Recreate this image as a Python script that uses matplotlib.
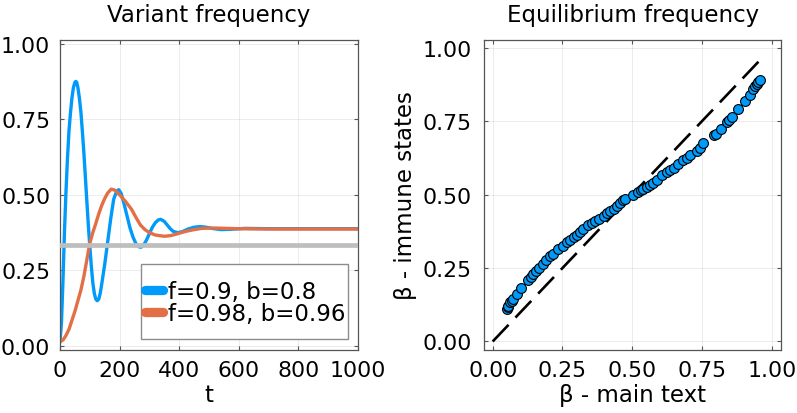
import matplotlib.pyplot as plt
from matplotlib.patches import Rectangle

# left panel: variant frequency over time
t_blue = [0, 5, 10, 15, 20, 25, 30, 35, 40, 45, 50, 53, 56, 60, 65, 70, 75, 80, 85, 90, 95,
          100, 105, 110, 115, 120, 125, 130, 135, 140, 150, 160, 170, 180, 190, 197, 205,
          215, 225, 235, 245, 255, 265, 272, 280, 290, 300, 310, 320, 330, 338, 350, 360,
          370, 380, 395, 410, 430, 450, 470, 490, 510, 540, 570, 620, 700, 800, 1000]
y_blue = [0.015, 0.08, 0.22, 0.38, 0.51, 0.62, 0.71, 0.77, 0.82, 0.855, 0.872, 0.875, 0.872,
          0.855, 0.82, 0.775, 0.71, 0.64, 0.56, 0.48, 0.40, 0.33, 0.265, 0.21, 0.175, 0.155,
          0.150, 0.155, 0.175, 0.205, 0.27, 0.345, 0.42, 0.485, 0.512, 0.517, 0.505, 0.47,
          0.43, 0.39, 0.36, 0.338, 0.328, 0.327, 0.333, 0.35, 0.372, 0.393, 0.408, 0.417,
          0.419, 0.412, 0.40, 0.388, 0.379, 0.375, 0.378, 0.387, 0.393, 0.395, 0.393, 0.389,
          0.385, 0.386, 0.389, 0.388, 0.388, 0.388]
t_orange = [0, 10, 20, 30, 40, 50, 60, 70, 80, 90, 100, 110, 120, 130, 140, 150, 160, 172,
            185, 200, 220, 240, 255, 270, 285, 300, 320, 350, 370, 390, 410, 430, 450, 475,
            500, 530, 560, 600, 700, 1000]
y_orange = [0.015, 0.02, 0.035, 0.055, 0.085, 0.115, 0.15, 0.185, 0.23, 0.285, 0.34, 0.375,
            0.405, 0.437, 0.465, 0.488, 0.506, 0.519, 0.515, 0.50, 0.478, 0.452, 0.425, 0.40,
            0.385, 0.375, 0.367, 0.363, 0.365, 0.37, 0.376, 0.381, 0.385, 0.389, 0.390, 0.390,
            0.389, 0.388, 0.387, 0.387]
baseline = 1 / 3
labels = ["f=0.9, b=0.8", "f=0.98, b=0.96"]

# right panel: equilibrium frequency comparison
beta_main = [0.050, 0.053, 0.056, 0.062, 0.068, 0.074, 0.086, 0.100, 0.128, 0.137, 0.146, 0.156,
             0.167, 0.180, 0.191, 0.205, 0.217, 0.235, 0.253, 0.265, 0.277, 0.290, 0.301, 0.312,
             0.323, 0.340, 0.355, 0.367, 0.379, 0.397, 0.410, 0.421, 0.433, 0.444, 0.456, 0.468,
             0.475, 0.504, 0.520, 0.530, 0.540, 0.552, 0.564, 0.576, 0.588, 0.605, 0.624, 0.636,
             0.648, 0.665, 0.683, 0.695, 0.707, 0.731, 0.743, 0.755, 0.791, 0.800, 0.817, 0.839,
             0.848, 0.857, 0.878, 0.904, 0.922, 0.934, 0.940, 0.946, 0.952, 0.956]
beta_immune = [0.110, 0.116, 0.122, 0.133, 0.139, 0.144, 0.161, 0.181, 0.209, 0.220, 0.230, 0.240,
               0.251, 0.265, 0.277, 0.290, 0.298, 0.313, 0.324, 0.337, 0.347, 0.357, 0.364, 0.374,
               0.383, 0.395, 0.403, 0.410, 0.417, 0.428, 0.436, 0.444, 0.452, 0.460, 0.470, 0.480,
               0.485, 0.499, 0.510, 0.515, 0.519, 0.525, 0.531, 0.540, 0.550, 0.565, 0.578, 0.585,
               0.591, 0.603, 0.616, 0.626, 0.636, 0.648, 0.660, 0.676, 0.701, 0.707, 0.722, 0.747,
               0.755, 0.764, 0.790, 0.818, 0.840, 0.860, 0.868, 0.877, 0.884, 0.889]
diag = [0.0, 0.97]

blue = "#009AFA"
orange = "#E36F47"
plt.rcParams['font.family'] = 'DejaVu Sans'
TICK = 15.8
BIG = 16.5

fig = plt.figure(figsize=(7.97, 4.14), dpi=100)
ax1 = fig.add_axes([0.0753, 0.1522, 0.3739, 0.7488])
ax2 = fig.add_axes([0.6077, 0.1522, 0.3723, 0.7488])

for ax in (ax1, ax2):
    ax.grid(True, color="#000000", alpha=0.08, lw=0.7)
    ax.set_axisbelow(True)
    for s in ax.spines.values():
        s.set_color("#555555")
        s.set_linewidth(0.9)
    ax.tick_params(direction="in", length=3, width=0.8, color="#555555",
                   top=True, right=True, labelsize=TICK)
    ax.tick_params(axis="x", pad=7.5)
ax1.tick_params(axis="y", pad=7)
ax2.tick_params(axis="y", pad=9)

ax1.plot(t_blue, y_blue, color=blue, lw=2.4, label=labels[0])
ax1.plot(t_orange, y_orange, color=orange, lw=2.4, label=labels[1])
ax1.axhline(baseline, color="#BEBEBE", lw=3.4, zorder=3)
ax1.set_xlim(0, 1000)
ax1.set_ylim(-0.013, 1.012)
ax1.set_xticks([0, 200, 400, 600, 800, 1000])
ax1.set_yticks([0, 0.25, 0.5, 0.75, 1.0])
ax1.set_yticklabels(["0.00", "0.25", "0.50", "0.75", "1.00"])
ax1.set_xlabel("t", fontsize=BIG, labelpad=2)
ax1.set_title("Variant frequency", fontsize=BIG, pad=14)

# legend box: Plots-style, handles touching the left edge
ax1.add_patch(Rectangle((0.272, 0.0355), 0.6954, 0.2415, transform=ax1.transAxes,
                        facecolor="white", edgecolor="#8c8c8c", lw=1.0, zorder=4))
leg = ax1.legend(loc="center left", bbox_to_anchor=(0.284, 0.1535), borderaxespad=0,
                 frameon=False, fontsize=BIG, borderpad=0,
                 handlelength=0.78, handletextpad=0.25, labelspacing=-0.06)
leg.set_zorder(5)
for h in leg.get_lines():
    h.set_linewidth(6.7)
    h.set_solid_capstyle("round")

ax2.plot(diag, diag, color="black", lw=1.9, dashes=(8.7, 3.8), zorder=2)
ax2.scatter(beta_main, beta_immune, s=50, color=blue, edgecolor="black", linewidths=0.8, zorder=3)
ax2.set_xlim(-0.030, 1.033)
ax2.set_ylim(-0.029, 1.026)
ticks = [0, 0.25, 0.5, 0.75, 1.0]
tl = ["0.00", "0.25", "0.50", "0.75", "1.00"]
ax2.set_xticks(ticks)
ax2.set_xticklabels(tl)
ax2.set_yticks(ticks)
ax2.set_yticklabels(tl)
ax2.set_xlabel("β - main text", fontsize=BIG, labelpad=2)
ax2.set_ylabel("β - immune states", fontsize=BIG, labelpad=4)
ax2.set_title("Equilibrium frequency", fontsize=BIG, pad=14)

fig.savefig("out.png", dpi=100)
